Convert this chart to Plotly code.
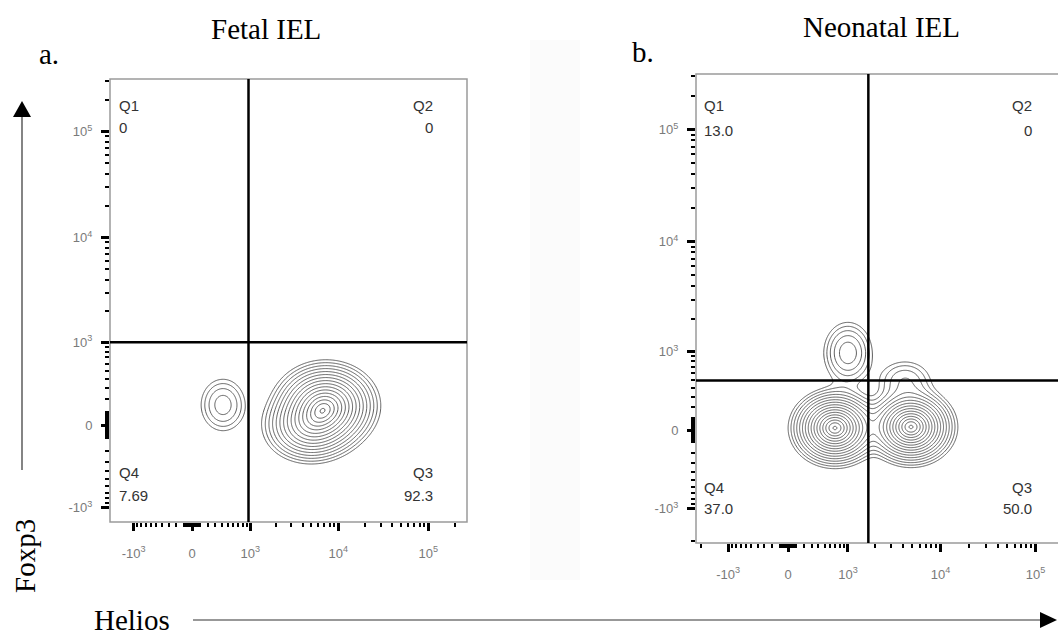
import numpy as np
import plotly.graph_objects as go

W, H = 1058, 633
LN10 = np.log(10.0)

# ---------------- data ----------------
PANEL_TITLES = ["Fetal IEL", "Neonatal IEL"]
PANEL_LETTERS = ["a.", "b."]
X_TITLE = "Helios"
Y_TITLE = "Foxp3"

MAJOR_TICKS = [-1000, 0, 1000, 10000, 100000]
MAJOR_TICK_TEXT = ["-10<sup>3</sup>", "0", "10<sup>3</sup>", "10<sup>4</sup>", "10<sup>5</sup>"]
MINOR_MANTISSA = [1, 2, 3, 4, 5, 6, 7, 8, 9]
MINOR_DECADES = [10, 100, 1000, 10000, 100000]

QUADRANTS = ["Q1", "Q2", "Q3", "Q4"]
FETAL_PCT = ["0", "0", "92.3", "7.69"]
NEONATAL_PCT = ["13.0", "0", "50.0", "37.0"]

FETAL_GATE_HELIOS = 950
FETAL_GATE_FOXP3 = 1000
NEONATAL_GATE_HELIOS = 1700
NEONATAL_GATE_FOXP3 = 500

# cell populations: centre (data units), spread (display decades), relative weight
FETAL_POP_HELIOS = [7300, 4800, 416]
FETAL_POP_FOXP3 = [150, -20, 153]
FETAL_POP_SD_X = [0.24, 0.23, 0.15]
FETAL_POP_SD_Y = [0.17, 0.15, 0.15]
FETAL_POP_WEIGHT = [1.0, 0.5, 0.15]

NEONATAL_POP_HELIOS = [693, 4870, 1000, 4200]
NEONATAL_POP_FOXP3 = [17, 26, 970, 506]
NEONATAL_POP_SD_X = [0.19, 0.19, 0.14, 0.17]
NEONATAL_POP_SD_Y = [0.14, 0.14, 0.15, 0.11]
NEONATAL_POP_WEIGHT = [1.0, 1.0, 0.18, 0.1]

# ---------------- layout / scale settings ----------------
# frame box (px), pixel of value 0, px per display decade, biexponential width
PANELS = [
    dict(frame=(110, 79, 467, 522), zero=(192, 425), k=(90, 106), width=(474, 341),
         gate=(FETAL_GATE_HELIOS, FETAL_GATE_FOXP3), pct=FETAL_PCT,
         pops=(FETAL_POP_HELIOS, FETAL_POP_FOXP3, FETAL_POP_SD_X, FETAL_POP_SD_Y, FETAL_POP_WEIGHT),
         qx=(117, 435), qy=(105, 127, 472, 495), title=(266, 29), letter=(37, 54)),
    dict(frame=(696, 74, 1063, 543), zero=(788, 430), k=(95, 112), width=(495, 415),
         gate=(NEONATAL_GATE_HELIOS, NEONATAL_GATE_FOXP3), pct=NEONATAL_PCT,
         pops=(NEONATAL_POP_HELIOS, NEONATAL_POP_FOXP3, NEONATAL_POP_SD_X, NEONATAL_POP_SD_Y, NEONATAL_POP_WEIGHT),
         qx=(702, 1034), qy=(105, 130, 487, 508), title=(881, 27), letter=(630, 52)),
]


def biex(v, w):
    return np.arcsinh(np.asarray(v, dtype=float) / w) / LN10


def px(x):
    return x / W


def py(y):
    return 1 - y / H


minor_vals = sorted({s * m * d for s in (-1, 1) for m in MINOR_MANTISSA for d in MINOR_DECADES} - set(MAJOR_TICKS))

fig = go.Figure()
shapes = []
annotations = []

for i, p in enumerate(PANELS):
    sfx = "" if i == 0 else str(i + 1)
    left, top, right, bottom = p["frame"]
    x0, y0 = p["zero"]
    kx, ky = p["k"]
    wx, wy = p["width"]
    dom_right = min(right, W)
    xr = [(left - x0) / kx, (dom_right - x0) / kx]
    yr = [(y0 - bottom) / ky, (y0 - top) / ky]

    # density grid in display space
    gx = np.linspace(xr[0], xr[1], 460)
    gy = np.linspace(yr[0], yr[1], 460)
    X, Y = np.meshgrid(gx, gy)
    hel, fox, sdx, sdy, wts = p["pops"]
    D = np.zeros_like(X)
    for h, f, sx, sy, wt in zip(hel, fox, sdx, sdy, wts):
        cx, cy = biex(h, wx), biex(f, wy)
        D += wt * np.exp(-0.5 * ((X - cx) / sx) ** 2 - 0.5 * ((Y - cy) / sy) ** 2)
    L = np.log(D + 1e-300)
    Z = -np.sqrt(np.clip(L.max() + 0.02 - L, 0, None))

    fig.add_trace(go.Contour(
        x=gx, y=gy, z=Z, xaxis="x" + sfx, yaxis="y" + sfx,
        contours=dict(coloring="lines", start=-1.84, end=-0.05, size=0.112),
        colorscale=[[0, "#5c5c5c"], [1, "#5c5c5c"]], showscale=False,
        line=dict(width=1.0, smoothing=1.0), hoverinfo="skip",
    ))

    tick_common = dict(
        ticks="outside", tickcolor="black", showgrid=False, zeroline=False, showline=False,
        tickmode="array", ticktext=MAJOR_TICK_TEXT,
        tickfont=dict(family="Liberation Sans, Arial", size=13, color="#7a7a7a"),
    )
    fig.update_layout({
        "xaxis" + sfx: dict(
            domain=[px(left), px(dom_right)], range=xr, anchor="y" + sfx,
            tickvals=list(biex(MAJOR_TICKS, wx)), ticklen=8, tickwidth=3,
            ticklabelstandoff=11,
            minor=dict(tickmode="array", tickvals=list(biex(minor_vals, wx)), ticks="outside",
                       ticklen=4, tickwidth=1.5, tickcolor="black"),
            **tick_common),
        "yaxis" + sfx: dict(
            domain=[py(bottom), py(top)], range=yr, anchor="x" + sfx,
            tickvals=list(biex(MAJOR_TICKS, wy)), ticklen=8, tickwidth=3,
            ticklabelstandoff=6,
            minor=dict(tickmode="array", tickvals=list(biex(minor_vals, wy)), ticks="outside",
                       ticklen=4, tickwidth=1.5, tickcolor="black"),
            **tick_common),
    })

    # frame
    shapes.append(dict(type="rect", xref="paper", yref="paper",
                       x0=px(left), x1=px(right), y0=py(bottom), y1=py(top),
                       line=dict(color="#9a9a9a", width=1.5), layer="above"))
    # quadrant gates
    gxv, gyv = biex(p["gate"][0], wx), biex(p["gate"][1], wy)
    shapes.append(dict(type="line", xref="x" + sfx, yref="y" + sfx + " domain",
                       x0=gxv, x1=gxv, y0=0, y1=1, line=dict(color="black", width=2.5)))
    shapes.append(dict(type="line", xref="x" + sfx + " domain", yref="y" + sfx,
                       x0=0, x1=1, y0=gyv, y1=gyv, line=dict(color="black", width=2.5)))

    # quadrant labels
    qlx, qrx = p["qx"]
    t1, t2, b1, b2 = p["qy"]
    qfont = dict(family="Liberation Sans, Arial", size=15, color="#333333")
    spots = {"Q1": (qlx, t1, t2, "left"), "Q2": (qrx, t1, t2, "right"),
             "Q3": (qrx, b1, b2, "right"), "Q4": (qlx, b1, b2, "left")}
    for q, pct in zip(QUADRANTS, p["pct"]):
        xx, ya, yb, anc = spots[q]
        annotations.append(dict(x=px(xx), y=py(ya), xref="paper", yref="paper", text=q,
                                showarrow=False, xanchor=anc, yanchor="middle", font=qfont))
        annotations.append(dict(x=px(xx), y=py(yb), xref="paper", yref="paper", text=pct,
                                showarrow=False, xanchor=anc, yanchor="middle", font=qfont))

    serif = dict(family="Liberation Serif, Times New Roman", size=29, color="black")
    tx, ty = p["title"]
    annotations.append(dict(x=px(tx), y=py(ty), xref="paper", yref="paper", text=PANEL_TITLES[i],
                            showarrow=False, xanchor="center", yanchor="middle", font=serif))
    lx, ly = p["letter"]
    annotations.append(dict(x=px(lx), y=py(ly), xref="paper", yref="paper", text=PANEL_LETTERS[i],
                            showarrow=False, xanchor="left", yanchor="middle", font=serif))

# axis titles with arrows
serif = dict(family="Liberation Serif, Times New Roman", size=29, color="black")
annotations.append(dict(x=px(92), y=py(620), xref="paper", yref="paper", text=X_TITLE,
                        showarrow=False, xanchor="left", yanchor="middle", font=serif))
annotations.append(dict(x=px(25), y=py(556), xref="paper", yref="paper", text=Y_TITLE, textangle=-90,
                        showarrow=False, xanchor="center", yanchor="middle", font=serif))

arrow_col = "#333333"
shapes.append(dict(type="line", xref="paper", yref="paper", x0=px(193), x1=px(1042),
                   y0=py(620), y1=py(620), line=dict(color=arrow_col, width=1.2)))
shapes.append(dict(type="path", xref="paper", yref="paper",
                   path=f"M {px(1040)} {py(612)} L {px(1057)} {py(620)} L {px(1040)} {py(628)} Z",
                   fillcolor="black", line=dict(color="black", width=0)))
shapes.append(dict(type="line", xref="paper", yref="paper", x0=px(22), x1=px(22),
                   y0=py(470), y1=py(115), line=dict(color=arrow_col, width=1.2)))
shapes.append(dict(type="path", xref="paper", yref="paper",
                   path=f"M {px(13)} {py(117)} L {px(22)} {py(101)} L {px(31)} {py(117)} Z",
                   fillcolor="black", line=dict(color="black", width=0)))

# faint stitching band between the panels
shapes.insert(0, dict(type="rect", xref="paper", yref="paper", x0=px(530), x1=px(580),
                      y0=py(580), y1=py(40), fillcolor="#fbfbfb", line=dict(width=0), layer="below"))

fig.update_layout(
    width=W, height=H, autosize=False,
    margin=dict(l=0, r=0, t=0, b=0),
    paper_bgcolor="white", plot_bgcolor="rgba(0,0,0,0)",
    showlegend=False, shapes=shapes, annotations=annotations,
)

fig.write_html("out.html")
